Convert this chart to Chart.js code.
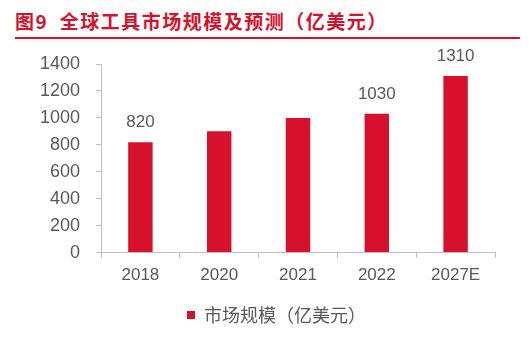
<!DOCTYPE html>
<html>
<head>
<meta charset="utf-8">
<script src="https://cdn.jsdelivr.net/npm/chart.js@4"></script>
<style>
  html, body { margin: 0; padding: 0; background: #fff; }
  #wrap { position: relative; width: 531px; height: 340px; overflow: hidden; }
  #title {
    position: absolute; left: 15px; top: 7px; width: 505px; height: 30px;
    border-bottom: 2px solid #d7102b;
    color: #d7102b; font: bold 19px "Noto Sans CJK SC", sans-serif; line-height: 28px;
    letter-spacing: 1.5px;
  }
  canvas { position: absolute; left: 0; top: 0; }
</style>
</head>
<body>
<div id="wrap">
  <div id="title">图9&nbsp; 全球工具市场规模及预测（亿美元）</div>
  <canvas id="c" width="531" height="340"></canvas>
</div>
<script>
// chart data
const years = ['2018', '2020', '2021', '2022', '2027E'];
const marketSize = [820, 900, 1000, 1030, 1310];
const barLabels = ['820', null, null, '1030', '1310'];
const seriesName = '市场规模（亿美元）';

const red = '#d7102b';
const grey = '#595959';
const axisGrey = '#bfbfbf';

// draws the value labels above selected bars
const valueLabels = {
  id: 'valueLabels',
  afterDatasetsDraw(chart) {
    const ctx = chart.ctx;
    const meta = chart.getDatasetMeta(0);
    ctx.save();
    ctx.fillStyle = grey;
    ctx.font = '17px "Liberation Sans", Arial, sans-serif';
    ctx.textAlign = 'center';
    ctx.textBaseline = 'bottom';
    meta.data.forEach((bar, i) => {
      if (barLabels[i]) ctx.fillText(barLabels[i], bar.x, bar.y - 11);
    });
    ctx.restore();
  }
};

// legend sits a little right of the canvas centre in the original
const legendShift = {
  id: 'legendShift',
  afterLayout(chart) {
    chart.legend.left += 29;
    chart.legend.right += 29;
  }
};

new Chart(document.getElementById('c'), {
  type: 'bar',
  data: {
    labels: years,
    datasets: [{
      label: seriesName,
      data: marketSize,
      backgroundColor: red,
      barPercentage: 0.62,
      categoryPercentage: 0.5
    }]
  },
  options: {
    responsive: false,
    animation: false,
    layout: { padding: { top: 64, right: 36, left: 0, bottom: 6 } },
    plugins: {
      legend: {
        position: 'bottom',
        labels: {
          color: grey,
          font: { size: 18, family: '"Noto Sans CJK SC", sans-serif' },
          boxWidth: 8, boxHeight: 8, padding: 12
        }
      },
      tooltip: { enabled: false }
    },
    scales: {
      y: {
        min: 0, max: 1400,
        ticks: {
          stepSize: 200, color: grey, padding: 16,
          font: { size: 18, family: '"Liberation Sans", Arial, sans-serif' },
          callback: v => String(v)
        },
        grid: { drawOnChartArea: false, color: axisGrey, tickLength: 5 },
        border: { color: axisGrey },
        afterFit(scale) { scale.width = 101; }
      },
      x: {
        ticks: { color: grey, padding: 8, font: { size: 17, family: '"Liberation Sans", Arial, sans-serif' } },
        grid: { drawOnChartArea: false, color: axisGrey, tickLength: 5 },
        border: { color: axisGrey }
      }
    }
  },
  plugins: [valueLabels, legendShift]
});
</script>
</body>
</html>
